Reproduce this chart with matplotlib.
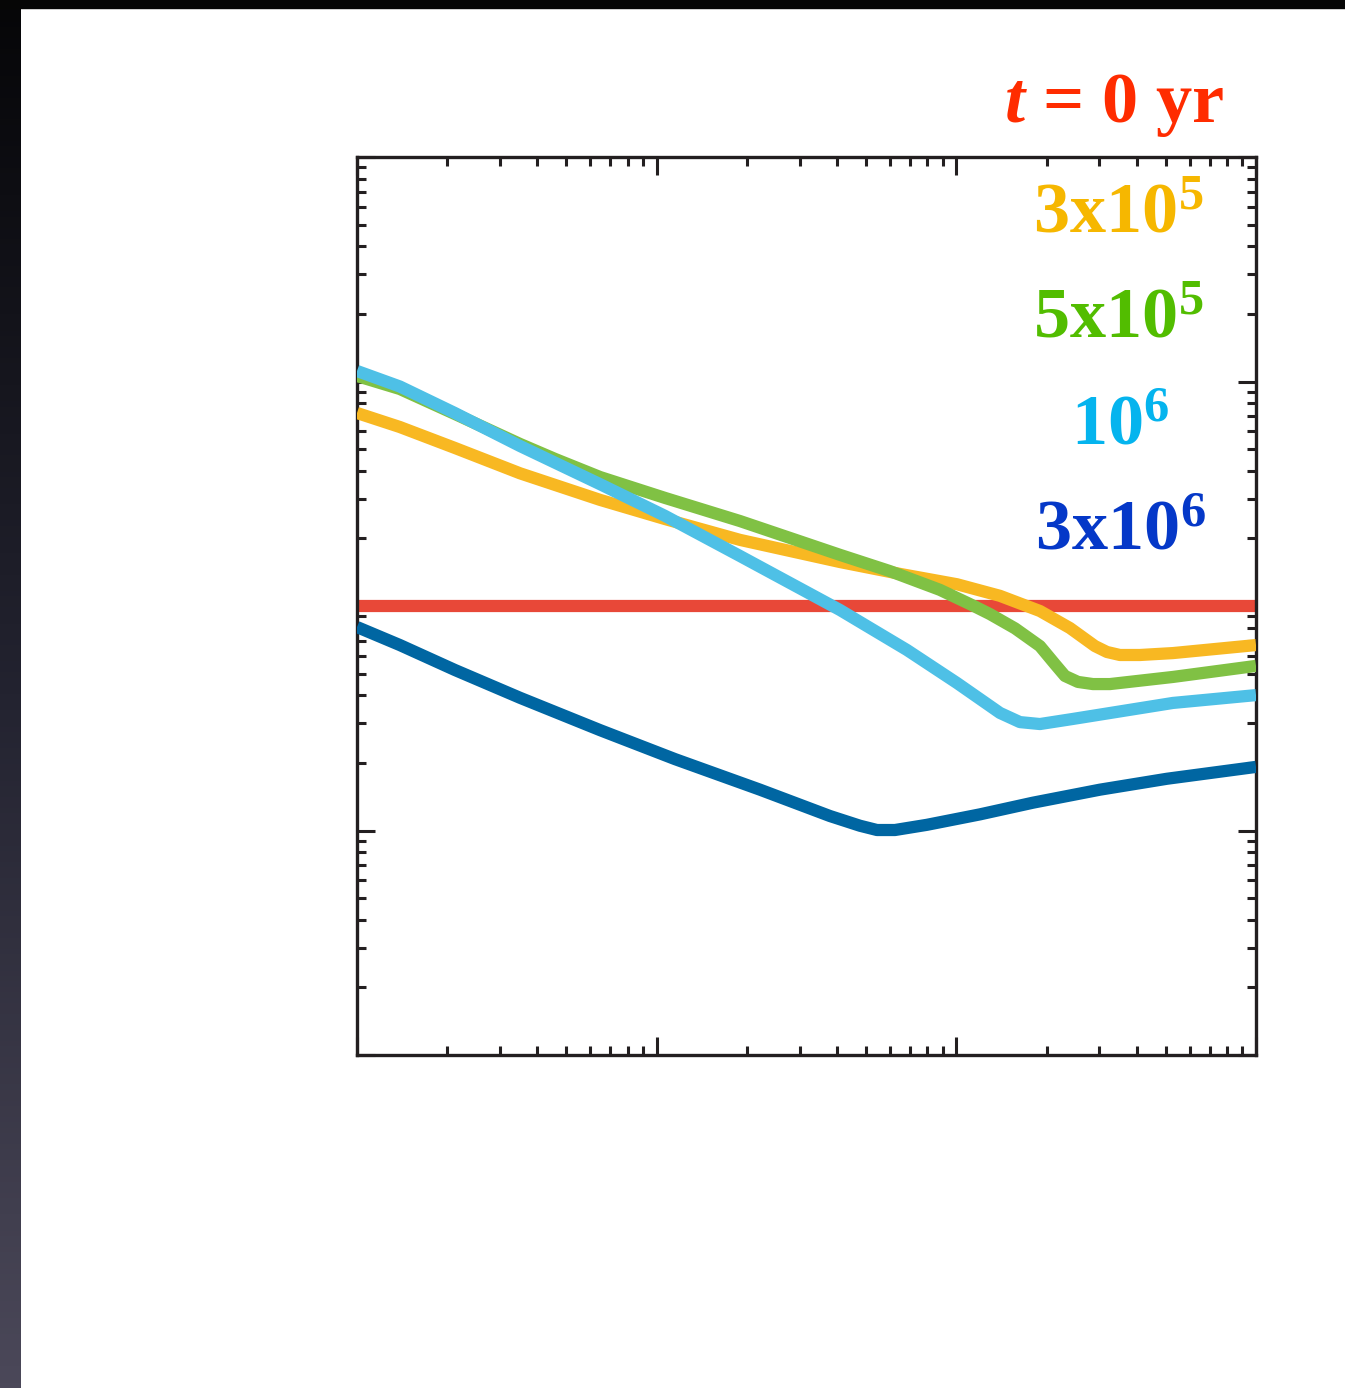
import numpy as np
import matplotlib.pyplot as plt
from matplotlib.colors import LinearSegmentedColormap
from matplotlib.patches import Rectangle

plt.rcParams['font.family'] = ['Liberation Serif', 'DejaVu Serif']
plt.rcParams['mathtext.fontset'] = 'custom'
plt.rcParams['mathtext.rm'] = 'Liberation Serif:bold'
plt.rcParams['mathtext.it'] = 'Liberation Serif:italic:bold'
plt.rcParams['mathtext.bf'] = 'Liberation Serif:bold'
plt.rcParams['mathtext.default'] = 'rm'

# profiles at successive times (log-log)
x_t0 = [0.1, 100]
y_t0 = [100, 100]

x_3e5 = [0.1, 0.139, 0.212, 0.35, 0.647, 1.066, 1.897, 4.089, 6.483, 10.05,
         13.98, 19.01, 23.93, 29.01, 31.81, 35.15, 41.0, 52.81, 100]
y_3e5 = [724, 627, 506, 390, 297, 244, 197, 157, 139, 125,
         111, 95.0, 79.8, 66.3, 62.4, 60.5, 60.5, 61.7, 67.0]

x_5e5 = [0.1, 0.139, 0.212, 0.35, 0.458, 0.647, 0.88, 1.066, 1.897, 4.089,
         6.004, 8.816, 11.10, 12.94, 15.7, 19.01, 21.33, 23.04, 25.46, 28.57,
         32.55, 52.81, 100]
y_5e5 = [1058, 926, 717, 527, 452, 375.5, 329, 303, 239, 169,
         143, 118, 102, 92.1, 79.5, 66.3, 55.1, 48.8, 45.9, 44.9,
         44.9, 48.3, 54.1]

x_1e6 = [0.1, 0.139, 0.212, 0.35, 0.647, 1.066, 1.897, 4.089, 6.842, 10.05,
         13.98, 16.30, 19.01, 24.49, 52.81, 100]
y_1e6 = [1114, 950, 724, 516, 349, 252, 167, 96.0, 63.7, 45.4,
         33.4, 30.4, 29.8, 31.4, 37.0, 40.1]

x_3e6 = [0.1, 0.139, 0.212, 0.35, 0.647, 1.151, 2.212, 3.787, 4.769, 5.435,
         6.239, 7.977, 11.99, 18.01, 30.14, 50.43, 100]
y_3e6 = [80.6, 67.0, 51.9, 39.0, 28.0, 20.8, 15.2, 11.6, 10.5, 10.05,
         10.05, 10.6, 11.8, 13.3, 15.2, 17.0, 19.2]

labels = [r'$\mathit{t}$ = 0 yr', r'3x10$^{5}$', r'5x10$^{5}$', r'10$^{6}$', r'3x10$^{6}$']
line_colors = ['#e84838', '#f8b822', '#80c144', '#4ec0e6', '#0066a2']
text_colors = ['#ff2c00', '#f6b700', '#52bd00', '#05b4ee', '#0538c8']

W, H = 1345, 1388
fig = plt.figure(figsize=(W / 100, H / 100), dpi=100)
fig.patch.set_facecolor('white')

# dark frame along the left and top edges
edge = fig.add_axes([0, 0, 21 / W, 1])
edge.imshow(np.linspace(0, 1, 256).reshape(-1, 1), aspect='auto',
            cmap=LinearSegmentedColormap.from_list('edge', ['#060608', '#232330', '#4b4859']))
edge.axis('off')
fig.patches.append(Rectangle((0, 1 - 8 / H), 1, 8 / H, transform=fig.transFigure,
                             color='#060606', zorder=5))

ax = fig.add_axes([357 / W, (H - 1055) / H, 899 / W, 898 / H])
xs = [x_t0, x_3e5, x_5e5, x_1e6, x_3e6]
ys = [y_t0, y_3e5, y_5e5, y_1e6, y_3e6]
for i, (x, y) in enumerate(zip(xs, ys)):
    ax.plot(x, y, color=line_colors[i], lw=8.8, solid_capstyle='butt',
            solid_joinstyle='round', zorder=2 + i)

ax.set_xscale('log')
ax.set_yscale('log')
ax.set_xlim(0.1, 100)
ax.set_ylim(1, 1e4)
ax.tick_params(which='both', direction='in', top=True, right=True,
               labelbottom=False, labelleft=False, color='#231f20')
ax.tick_params(which='major', length=13, width=2.2)
ax.tick_params(which='minor', length=6.5, width=2.2)
for s in ax.spines.values():
    s.set_linewidth(2.4)
    s.set_color('#231f20')

# time labels in the upper right
text_pos = [(1114, 122), (1118, 232), (1118, 337), (1120, 444), (1120, 550)]
for lab, c, (px, py) in zip(labels, text_colors, text_pos):
    fig.text(px / W, 1 - py / H, lab, color=c, fontsize=52, fontweight='bold',
             ha='center', va='baseline')

fig.savefig('out.png', dpi=100)
